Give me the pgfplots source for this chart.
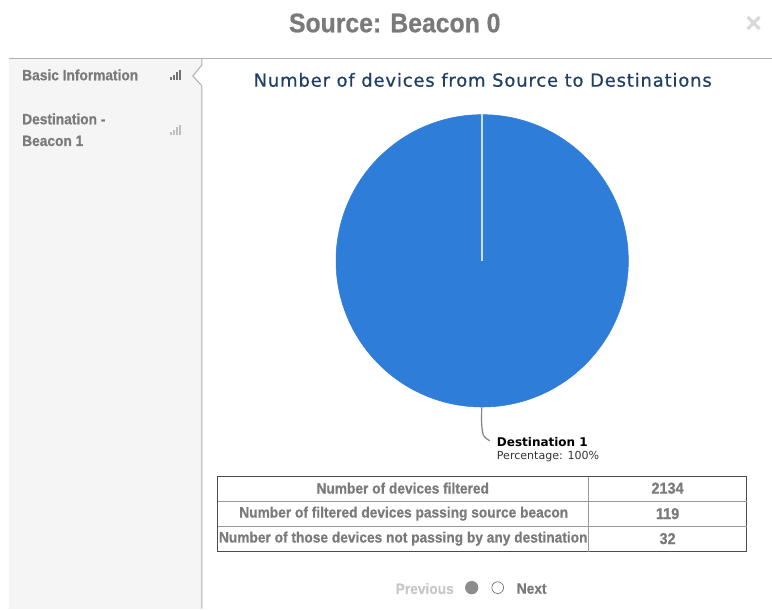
\documentclass[border=0pt]{standalone}
\usepackage{pgfplots}
\pgfplotsset{compat=1.18}
\usepackage{fontspec}
\setmainfont{Liberation Sans}
\newfontfamily\cond[FakeStretch=0.92,BoldFeatures={FakeBold=0.7}]{Liberation Sans}
\newfontfamily\dejavu{DejaVu Sans}
\newfontfamily\headfont[LetterSpace=4.6,FakeBold=0.7]{DejaVu Sans}
\definecolor{pieblue}{HTML}{2E7DD8}
\definecolor{sidegray}{HTML}{F5F5F5}
\definecolor{linegray}{HTML}{B0B0B0}
\definecolor{textgray}{HTML}{7A7A7A}
\definecolor{titleblue}{HTML}{1F3F64}
\begin{document}
\begin{tikzpicture}
\begin{axis}[
    scale only axis,
    width=579pt,
    height=456.75pt,
    xmin=0, xmax=772,
    ymin=0, ymax=609,
    y dir=reverse,
    hide axis,
    clip=false,
    clip marker paths=true,
    ]
% hide axis leaves the rectangle out of the page size
\path (axis cs:0,0) rectangle (axis cs:772,609);

% side panel
\fill[sidegray] (axis cs:9,59) rectangle (axis cs:202,609);
\fill[white] (axis cs:202,65) -- (axis cs:193,76) -- (axis cs:202,86) -- cycle;
\draw[linegray,line width=0.75pt] (axis cs:9,59) -- (axis cs:772,59);
\draw[linegray,line width=0.75pt] (axis cs:202,59) -- (axis cs:202,65) -- (axis cs:193,76) -- (axis cs:202,86) -- (axis cs:202,609);

% the one slice: centre of the pie, 100%
\addplot[only marks, mark=*, mark size=109.7pt, mark options={fill=pieblue, draw=pieblue}] coordinates {(482.5,261)};
\addplot[no marks, color=white!75!pieblue, line width=1.6pt] coordinates {(482,114) (482,261)};
\addplot[no marks, smooth, color=gray, line width=0.9pt] coordinates {(482,408) (482,425) (484,436) (490,441)};

% header
\node[anchor=center,text=textgray,font=\cond\bfseries\fontsize{20.2}{24}\selectfont] at (axis cs:395,23) {Source: Beacon 0};
\draw[black!15,line width=2.4pt] (axis cs:748,17) -- (axis cs:760,29);
\draw[black!15,line width=2.4pt] (axis cs:760,17) -- (axis cs:748,29);
\node[anchor=center,text=titleblue,font=\headfont\fontsize{13.5}{15}\selectfont] at (axis cs:483,80) {Number of devices from Source to Destinations};

% side labels
\node[anchor=west,inner sep=0pt,text=textgray,font=\cond\bfseries\fontsize{11.2}{12}\selectfont] at (axis cs:22,75) {Basic Information};
\node[anchor=west,inner sep=0pt,text=textgray,font=\cond\bfseries\fontsize{11.2}{12}\selectfont] at (axis cs:22,119) {Destination -};
\node[anchor=west,inner sep=0pt,text=textgray,font=\cond\bfseries\fontsize{11.2}{12}\selectfont] at (axis cs:22,141) {Beacon 1};
\foreach \i/\h in {0/3,1/5,2/8,3/10} {
  \edef\temp{\noexpand\fill[black!55] (axis cs:{170+\i*3.2},80) rectangle (axis cs:{171.8+\i*3.2},{80-\h});
  \noexpand\fill[black!25] (axis cs:{170+\i*3.2},135) rectangle (axis cs:{171.8+\i*3.2},{135-\h});}
  \temp
}

% callout
\node[anchor=west,inner sep=0pt,font=\dejavu\bfseries\fontsize{9}{10}\selectfont] at (axis cs:497,442) {Destination 1};
\node[anchor=west,inner sep=0pt,text=black!80,font=\dejavu\fontsize{8.3}{10}\selectfont] at (axis cs:497,457) {Percentage: 100\%};

% table
\draw[black!70,line width=0.75pt] (axis cs:218,477) rectangle (axis cs:747,552);
\draw[black!40,line width=0.75pt] (axis cs:218,502) -- (axis cs:747,502);
\draw[black!40,line width=0.75pt] (axis cs:218,527) -- (axis cs:747,527);
\draw[black!40,line width=0.75pt] (axis cs:589,477) -- (axis cs:589,552);
\node[text=textgray,font=\cond\bfseries\fontsize{11.2}{12}\selectfont] at (axis cs:403,488.5) {Number of devices filtered};
\node[text=textgray,font=\cond\bfseries\fontsize{11.2}{12}\selectfont] at (axis cs:404,514) {Number of filtered devices passing source beacon};
\node[text=textgray,font=\cond\bfseries\fontsize{11.2}{12}\selectfont] at (axis cs:403.5,539) {Number of those devices not passing by any destination};
\node[text=textgray,font=\cond\bfseries\fontsize{11.8}{12}\selectfont] at (axis cs:668,488.5) {2134};
\node[text=textgray,font=\cond\bfseries\fontsize{11.8}{12}\selectfont] at (axis cs:668,514) {119};
\node[text=textgray,font=\cond\bfseries\fontsize{11.8}{12}\selectfont] at (axis cs:668,539) {32};

% pager
\node[text=black!22,font=\cond\bfseries\fontsize{11.2}{12}\selectfont] at (axis cs:425,589) {Previous};
\node[text=textgray,font=\cond\bfseries\fontsize{11.2}{12}\selectfont] at (axis cs:532,589) {Next};
\fill[black!45] (axis cs:472,588) circle[radius=5pt];
\draw[black!60,line width=0.5pt] (axis cs:498,588) circle[radius=4.4pt];
\end{axis}
\end{tikzpicture}
\end{document}
